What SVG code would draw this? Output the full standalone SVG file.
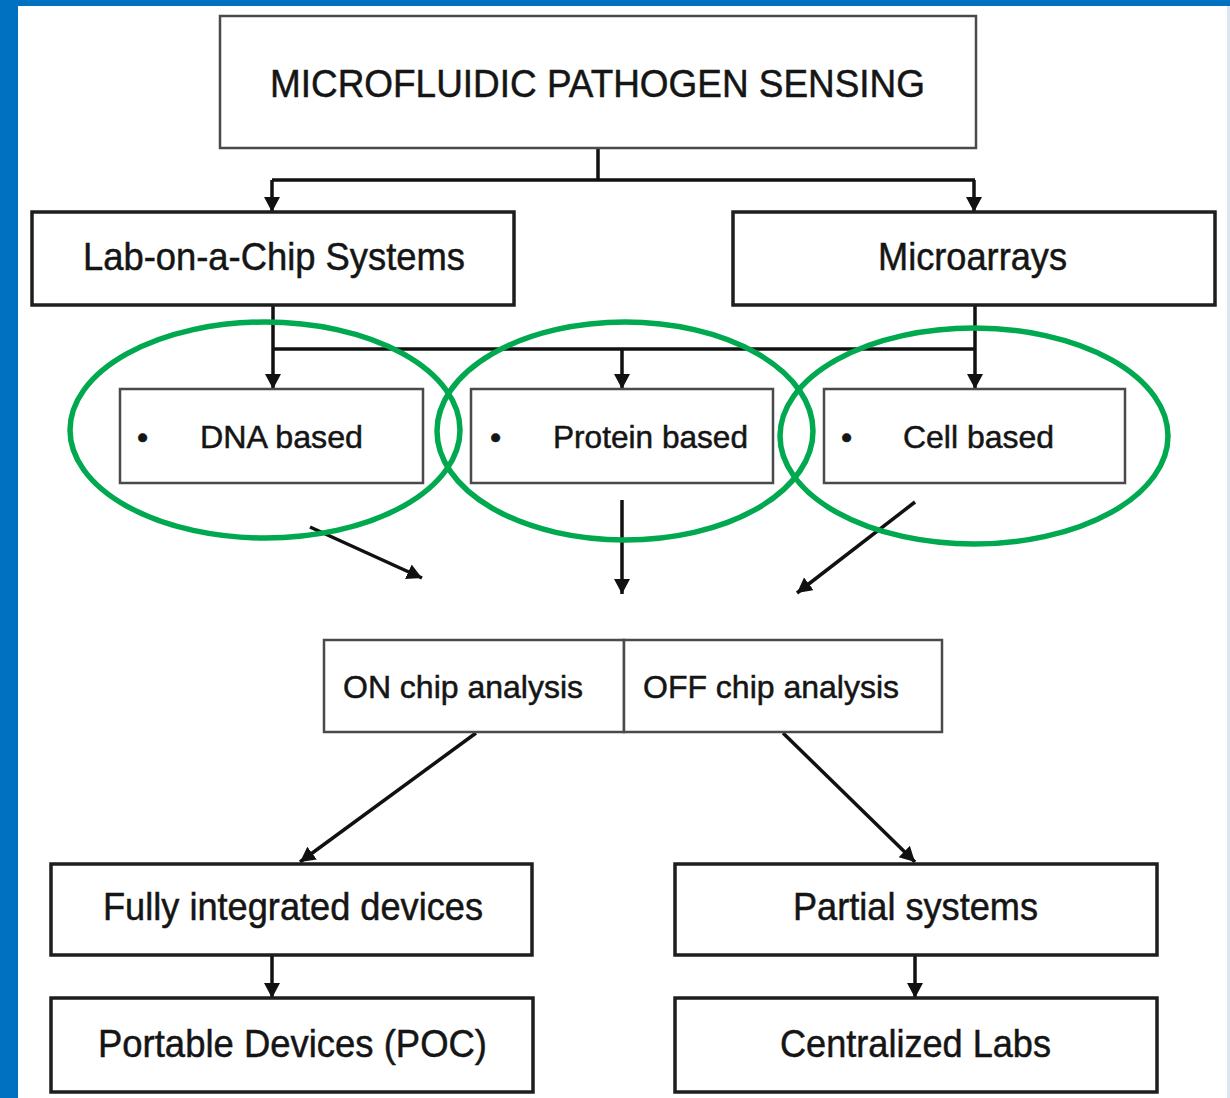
<svg xmlns="http://www.w3.org/2000/svg" width="1230" height="1098" viewBox="0 0 1230 1098">
<defs>
<style>
.box{fill:#ffffff;stroke:#1e1e1e;stroke-width:3.5}
.thin{fill:#ffffff;stroke:#4a4a4a;stroke-width:2.5}
.t{font-family:"Liberation Sans",Arial,Helvetica,sans-serif;fill:#151515;stroke:#151515;stroke-width:0.5}
.big{font-size:38px}
.mid{font-size:32px}
.con{stroke:#111;stroke-width:3.5;fill:none}
.ring{fill:none;stroke:#00a84f;stroke-width:5.5}
</style>
<marker id="ah" markerUnits="userSpaceOnUse" markerWidth="18" markerHeight="18" refX="15" refY="8" orient="auto">
<path d="M0,0 L15,8 L0,16 z" fill="#111"/>
</marker>
</defs>
<rect x="0" y="0" width="1230" height="1098" fill="#ffffff"/>
<rect x="0" y="0" width="1230" height="6" fill="#0070c0"/>
<rect x="0" y="0" width="18" height="1098" fill="#0070c0"/>
<rect x="1227" y="6" width="3" height="1092" fill="#dde6f0"/>

<g id="connectors">
<line class="con" x1="598" y1="148" x2="598" y2="180"/>
<line class="con" x1="272" y1="180" x2="975" y2="180"/>
<line class="con" x1="272" y1="180" x2="272" y2="212" marker-end="url(#ah)"/>
<line class="con" x1="974" y1="180" x2="974" y2="212" marker-end="url(#ah)"/>
<line class="con" x1="273" y1="305" x2="273" y2="389" marker-end="url(#ah)"/>
<line class="con" x1="975" y1="305" x2="975" y2="389" marker-end="url(#ah)"/>
<line class="con" stroke-width="2.5" x1="273" y1="349" x2="975" y2="349"/>
<line class="con" x1="622" y1="349" x2="622" y2="389" marker-end="url(#ah)"/>
<line class="con" x1="310" y1="527" x2="422" y2="578" marker-end="url(#ah)"/>
<line class="con" x1="622" y1="500" x2="622" y2="594" marker-end="url(#ah)"/>
<line class="con" x1="915" y1="502" x2="797" y2="593" marker-end="url(#ah)"/>
<line class="con" x1="476" y1="733" x2="300" y2="862" marker-end="url(#ah)"/>
<line class="con" x1="783" y1="733" x2="915" y2="862" marker-end="url(#ah)"/>
<line class="con" x1="272" y1="955" x2="272" y2="998" marker-end="url(#ah)"/>
<line class="con" x1="915" y1="955" x2="915" y2="998" marker-end="url(#ah)"/>
</g>

<g id="title">
<rect class="thin" x="220" y="16" width="756" height="132"/>
<text class="t big" x="270" y="97" textLength="655" lengthAdjust="spacingAndGlyphs">MICROFLUIDIC PATHOGEN SENSING</text>
</g>
<g id="lab-on-a-chip">
<rect class="box" x="32" y="212" width="482" height="93"/>
<text class="t big" x="83" y="270" textLength="382" lengthAdjust="spacingAndGlyphs">Lab-on-a-Chip Systems</text>
</g>
<g id="microarrays">
<rect class="box" x="733" y="212" width="482" height="93"/>
<text class="t big" x="878" y="270" textLength="189" lengthAdjust="spacingAndGlyphs">Microarrays</text>
</g>
<g id="dna">
<rect class="thin" x="120" y="389" width="303" height="94"/>
<text class="t mid" x="137" y="448">•</text>
<text class="t mid" x="200" y="448" textLength="163" lengthAdjust="spacingAndGlyphs">DNA based</text>
</g>
<g id="protein">
<rect class="thin" x="471" y="389" width="302" height="94"/>
<text class="t mid" x="490" y="448">•</text>
<text class="t mid" x="553" y="448" textLength="195" lengthAdjust="spacingAndGlyphs">Protein based</text>
</g>
<g id="cell">
<rect class="thin" x="824" y="389" width="301" height="94"/>
<text class="t mid" x="841" y="448">•</text>
<text class="t mid" x="903" y="448" textLength="151" lengthAdjust="spacingAndGlyphs">Cell based</text>
</g>
<g id="on-chip">
<rect class="thin" x="324" y="640" width="300" height="92"/>
<text class="t mid" x="343" y="698" textLength="240" lengthAdjust="spacingAndGlyphs">ON chip analysis</text>
</g>
<g id="off-chip">
<rect class="thin" x="624" y="640" width="318" height="92"/>
<text class="t mid" x="643" y="698" textLength="256" lengthAdjust="spacingAndGlyphs">OFF chip analysis</text>
</g>
<g id="fully">
<rect class="box" x="51" y="864" width="481" height="91"/>
<text class="t big" x="103" y="920" textLength="380" lengthAdjust="spacingAndGlyphs">Fully integrated devices</text>
</g>
<g id="portable">
<rect class="box" x="51" y="998" width="482" height="94"/>
<text class="t big" x="98" y="1057" textLength="389" lengthAdjust="spacingAndGlyphs">Portable Devices (POC)</text>
</g>
<g id="partial">
<rect class="box" x="675" y="864" width="482" height="91"/>
<text class="t big" x="793" y="920" textLength="245" lengthAdjust="spacingAndGlyphs">Partial systems</text>
</g>
<g id="centralized">
<rect class="box" x="675" y="998" width="482" height="94"/>
<text class="t big" x="780" y="1057" textLength="271" lengthAdjust="spacingAndGlyphs">Centralized Labs</text>
</g>

<g id="highlights">
<ellipse class="ring" cx="265" cy="430" rx="195" ry="108"/>
<ellipse class="ring" cx="625" cy="431" rx="188" ry="109"/>
<ellipse class="ring" cx="974" cy="436" rx="194" ry="108"/>
</g>
</svg>
